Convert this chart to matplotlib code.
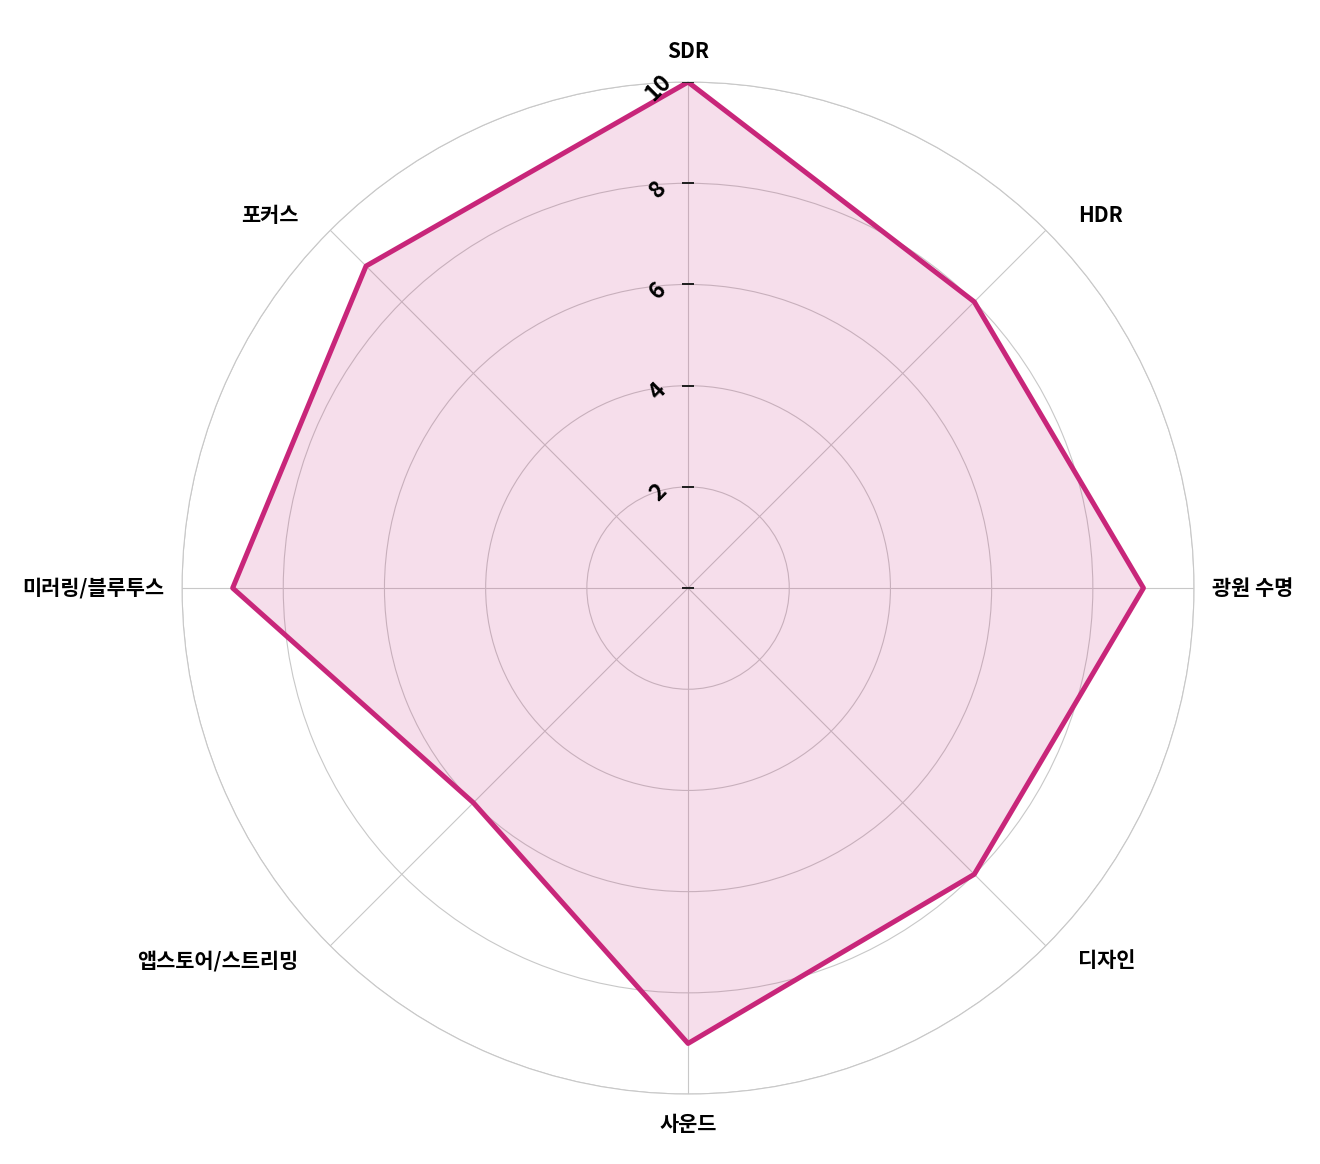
import numpy as np
import matplotlib
matplotlib.use('Agg')
import matplotlib.pyplot as plt

plt.rcParams['font.family'] = ['Noto Sans CJK KR', 'DejaVu Sans']

# data
categories = ['SDR', 'HDR', '광원 수명', '디자인', '사운드',
              '앱스토어/스트리밍', '미러링/블루투스', '포커스']
scores = [10, 8, 9, 8, 9, 6, 9, 9]
r_ticks = [2, 4, 6, 8, 10]

line_color = '#C8267A'

n = len(categories)
angles = np.linspace(0, 2 * np.pi, n, endpoint=False)
closed_angles = np.append(angles, angles[0])
closed_scores = scores + scores[:1]

fig = plt.figure(figsize=(13.2, 11.64), dpi=100)
ax = fig.add_axes([0.1379, 0.0601, 0.7667, 0.8694], projection='polar')
ax.set_theta_zero_location('N')
ax.set_theta_direction(-1)

ax.fill(closed_angles, closed_scores, color=line_color, alpha=0.15, zorder=2)
ax.plot(closed_angles, closed_scores, color=line_color, linewidth=3.6, zorder=3)

ax.set_ylim(0, 10)
ax.set_yticks(r_ticks)
ax.set_yticklabels([])
ax.tick_params(axis='y', length=0)

px = 1 / 1.389  # pixel -> points

# radial tick labels, rotated, left of the vertical axis
for t in r_ticks:
    ax.annotate(str(t), xy=(0, t), xytext=(-30 * px, -6 * px),
                textcoords='offset points', ha='center', va='center',
                rotation=45, fontsize=16.5, fontweight='bold',
                annotation_clip=False, zorder=5)

# short horizontal ticks on the vertical axis
ax.plot([0] * (len(r_ticks) + 1), [0] + r_ticks, linestyle='none',
        marker='_', markersize=8, markeredgewidth=1.4, color='#222222', zorder=4)

ax.set_xticks(angles)
ax.set_xticklabels([])
ax.grid(color='#c8c8c8', linewidth=0.8)
ax.spines['polar'].set_color('#c8c8c8')
ax.spines['polar'].set_linewidth(0.8)

# category labels placed around the outer circle
for ang, lab in zip(angles, categories):
    deg = np.degrees(ang) % 360
    if deg == 0:
        off, ha, va = (0, 20), 'center', 'bottom'
    elif deg == 180:
        off, ha, va = (0, -20), 'center', 'top'
    elif deg == 90:
        off, ha, va = (18, 0), 'left', 'center'
    elif deg == 270:
        off, ha, va = (-18, 0), 'right', 'center'
    else:
        sx = np.sign(np.sin(ang))
        sy = np.sign(np.cos(ang))
        off = (32 * sx, 15 * sy)
        ha = 'left' if sx > 0 else 'right'
        va = 'center'
    ax.annotate(lab, xy=(ang, 10), xytext=(off[0] * px, off[1] * px),
                textcoords='offset points', ha=ha, va=va,
                fontsize=15, fontweight='bold', annotation_clip=False)

fig.savefig('out.png', dpi=100, facecolor='white')
